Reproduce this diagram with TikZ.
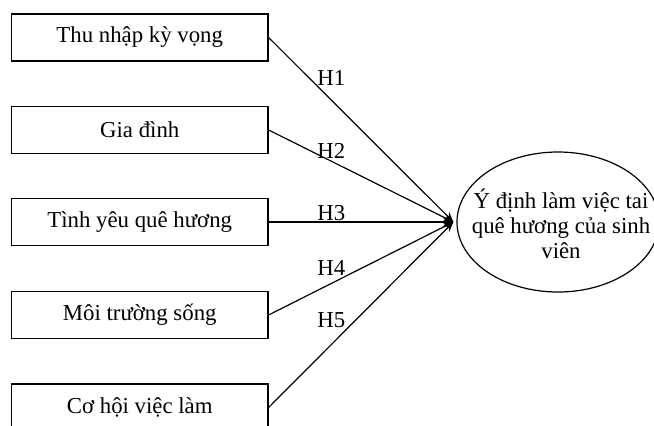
\documentclass[tikz,border=0pt]{standalone}
\usepackage{fontspec}
\setmainfont{Liberation Serif}
\usetikzlibrary{shapes.geometric,arrows.meta}
\begin{document}
\begin{tikzpicture}[x=0.5pt,y=-0.5pt,
  font=\fontsize{11.4}{12.5}\selectfont,
  factor/.style={draw, line width=0.6pt, minimum width=128.25pt, minimum height=23.5pt, inner sep=0pt},
  outcome/.style={draw, ellipse, line width=0.6pt, minimum width=101pt, minimum height=70pt, inner sep=0pt},
  label text/.style={inner sep=0pt, align=center},
  conn/.style={line width=0.6pt, -{Stealth[length=5pt,width=4pt]}},
  hyp/.style={inner sep=0pt, anchor=west}]
  \useasboundingbox (0,0) rectangle (654,425);
  \begin{scope}
  \clip (0,0) rectangle (654,425);
  % independent factors
  \node[factor] (b1) at (139.75,37.5) {Thu nhập kỳ vọng};
  \node[factor] (b2) at (139.75,130) {Gia đình};
  \node[factor] (b3) at (139.75,222) {Tình yêu quê hương};
  \node[factor] (b4) at (139.75,315) {Môi trường sống};
  \node[factor] (b5) at (139.75,407.5) {Cơ hội việc làm};
  % dependent variable
  \node[outcome] (goal) at (558,222) {};
  \node[label text] (goaltext) at (561,224) {Ý định làm việc tai\\quê hương của sinh\\viên};
  \coordinate (tip) at ([xshift=-1.5pt]goal.west);
  % hypotheses
  \draw[conn] (b1.east) -- (tip);
  \draw[conn] (b2.east) -- (tip);
  \draw[conn] (b3.east) -- (tip);
  \draw[conn] (b4.east) -- (tip);
  \draw[conn] (b5.east) -- (tip);
  \node[hyp] (h1) at (317,77.5) {H1};
  \node[hyp] (h2) at (317,151) {H2};
  \node[hyp] (h3) at (317,213) {H3};
  \node[hyp] (h4) at (317,268) {H4};
  \node[hyp] (h5) at (317,320) {H5};
  \end{scope}
\end{tikzpicture}
\end{document}
